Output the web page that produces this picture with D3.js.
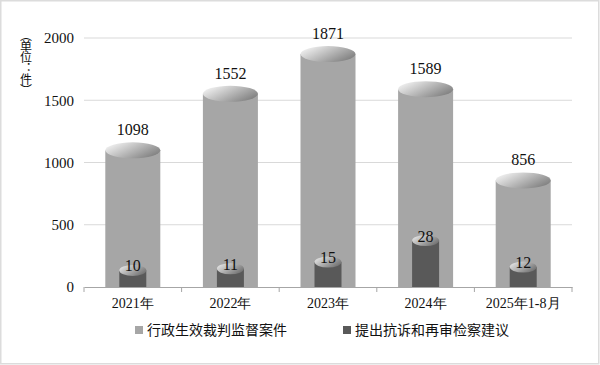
<!DOCTYPE html>
<html>
<head>
<meta charset="utf-8">
<script src="https://cdn.jsdelivr.net/npm/d3@7"></script>
<style>
  body { margin: 0; background: #fff; }
  svg { display: block; }
</style>
</head>
<body>
<svg id="chart"></svg>
<script>
// chart data
const years = ["2021年", "2022年", "2023年", "2024年", "2025年1-8月"];
const cases = [1098, 1552, 1871, 1589, 856];
const protests = [10, 11, 15, 28, 12];
const yTicks = [0, 500, 1000, 1500, 2000];
const seriesNames = ["行政生效裁判监督案件", "提出抗诉和再审检察建议"];
const unitLabel = "（单位：件）";

const W = 600, H = 365;
const margin = { top: 38, right: 28, bottom: 78, left: 84 };
const width = W - margin.left - margin.right,
      height = H - margin.top - margin.bottom;

const serif = "'Liberation Serif', 'DejaVu Serif', serif";
const sans = "'Noto Sans CJK SC', 'Noto Sans', sans-serif";

const svg = d3.select("#chart").attr("width", W).attr("height", H);

// outer frame
svg.append("rect")
    .attr("x", 0.75).attr("y", 0.75)
    .attr("width", W - 2).attr("height", H - 2)
    .attr("fill", "#fff")
    .attr("stroke", "#dcdcdc")
    .attr("stroke-width", 1.5);

const defs = svg.append("defs");
function capGradient(id, c1, c2) {
    const g = defs.append("linearGradient").attr("id", id)
        .attr("x1", "0%").attr("y1", "20%").attr("x2", "100%").attr("y2", "80%");
    g.append("stop").attr("offset", "0%").attr("stop-color", c1);
    g.append("stop").attr("offset", "100%").attr("stop-color", c2);
}
capGradient("capBig", "#f4f4f4", "#7a7a7a");
capGradient("capSmall", "#e6e6e6", "#6a6a6a");

const g = svg.append("g")
    .attr("transform", `translate(${margin.left},${margin.top})`);

const x = d3.scaleBand().domain(years).range([0, width]);
const y = d3.scaleLinear().domain([0, 2000]).range([height, 0]);
// second series sits on its own (hidden) value axis
const y2 = d3.scaleLinear().domain([0, 150]).range([height, 0]);

// gridlines
g.append("g")
    .selectAll("line")
    .data(yTicks.filter(d => d > 0))
    .join("line")
    .attr("x1", 0).attr("x2", width)
    .attr("y1", d => y(d)).attr("y2", d => y(d))
    .attr("stroke", "#d9d9d9").attr("stroke-width", 1);

// y axis labels
const yAxis = g.append("g")
    .call(d3.axisLeft(y).tickValues(yTicks).tickFormat(d3.format("d")).tickSize(0).tickPadding(10));
yAxis.select(".domain").remove();
yAxis.attr("font-family", null);
yAxis.selectAll("text")
    .style("font-family", serif).style("font-size", "15px").attr("fill", "#111");

// unit label, vertical text
svg.append("text")
    .attr("x", 26).attr("y", 29)
    .attr("writing-mode", "vertical-rl")
    .style("font-family", sans).style("font-size", "12px")
    .style("letter-spacing", "-1px")
    .attr("fill", "#111")
    .text(unitLabel);

// cylinders
const bigW = 55, bigRy = 8;
const smallW = 27, smallRy = 5.5;

function cylinders(cls, values, scale, w, ry, body, cap) {
    const grp = g.selectAll("g." + cls)
        .data(values)
        .join("g").attr("class", cls)
        .attr("transform", (d, i) => `translate(${x(years[i]) + x.bandwidth() / 2},0)`);
    grp.append("rect")
        .attr("x", -w / 2).attr("width", w)
        .attr("y", d => scale(d))
        .attr("height", d => height - scale(d))
        .attr("fill", body);
    grp.append("ellipse")
        .attr("cx", 0).attr("cy", d => scale(d))
        .attr("rx", w / 2).attr("ry", ry)
        .attr("fill", cap);
    return grp;
}

const big = cylinders("big", cases, y, bigW, bigRy, "#a6a6a6", "url(#capBig)");
big.append("text")
    .attr("y", d => y(d) - bigRy - 7)
    .attr("text-anchor", "middle")
    .style("font-family", serif).style("font-size", "16px").attr("fill", "#111")
    .text(d => d);

const small = cylinders("small", protests, y2, smallW, smallRy, "#595959", "url(#capSmall)");
small.append("text")
    .attr("y", d => y2(d) + 1)
    .attr("text-anchor", "middle")
    .style("font-family", serif).style("font-size", "16px").attr("fill", "#111")
    .text(d => d);

// x axis
const xAxis = g.append("g")
    .attr("transform", `translate(0,${height})`)
    .call(d3.axisBottom(x).tickSize(0).tickPadding(11));
xAxis.attr("font-family", null);
xAxis.select(".domain").attr("stroke", "#a6a6a6");
xAxis.selectAll("text")
    .style("font-family", serif).style("font-size", "14px").attr("fill", "#111");
xAxis.append("g")
    .selectAll("line")
    .data(d3.range(years.length + 1))
    .join("line")
    .attr("x1", i => i * x.step()).attr("x2", i => i * x.step())
    .attr("y1", 0).attr("y2", 5)
    .attr("stroke", "#a6a6a6");

// legend
const legend = svg.append("g");
const legendX = [135, 343];
const legendColors = ["#a6a6a6", "#595959"];
seriesNames.forEach((name, i) => {
    legend.append("rect")
        .attr("x", legendX[i]).attr("y", 326)
        .attr("width", 8).attr("height", 8)
        .attr("fill", legendColors[i]);
    legend.append("text")
        .attr("x", legendX[i] + 12).attr("y", 335)
        .style("font-family", sans).style("font-size", "14px").attr("fill", "#111")
        .text(name);
});
</script>
</body>
</html>
